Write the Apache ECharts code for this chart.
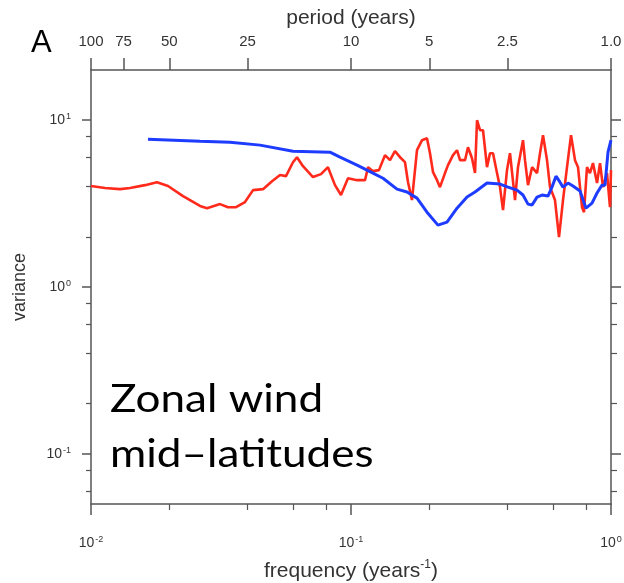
<!DOCTYPE html>
<html>
<head>
<meta charset="utf-8">
<script src="https://cdn.jsdelivr.net/npm/echarts@6/dist/echarts.min.js"></script>
<style>
  html, body { margin: 0; padding: 0; background: #fff; }
  #chart { width: 624px; height: 583px; }
</style>
</head>
<body>
<div id="chart"></div>
<script>
// ---- Data ----
// Red curve: frequency (1/years) and variance
var redFreq = [0.0100, 0.01132, 0.01293, 0.01413, 0.01613, 0.01794, 0.01978, 0.02259, 0.02626, 0.02794,
  0.03135, 0.03364, 0.03612, 0.03911, 0.04200, 0.04587, 0.04970, 0.05333, 0.05623, 0.05983,
  0.06198, 0.06536, 0.07142, 0.07666, 0.08155, 0.08678, 0.09152, 0.09738, 0.1055, 0.1132,
  0.1163, 0.1215, 0.1281, 0.1351, 0.1413, 0.1476, 0.1544, 0.1613, 0.1657, 0.1716,
  0.1794, 0.1876, 0.1960, 0.2013, 0.2068, 0.2142, 0.2199, 0.2299, 0.2361, 0.2468,
  0.2557, 0.2626, 0.2745, 0.2818, 0.2920, 0.2999, 0.3053, 0.3135, 0.3219, 0.3335,
  0.3424, 0.3517, 0.3644, 0.3742, 0.3843, 0.3981, 0.4088, 0.4274, 0.4388, 0.4587,
  0.4669, 0.4795, 0.4970, 0.5194, 0.5333, 0.5477, 0.5674, 0.5827, 0.6089, 0.6310,
  0.6538, 0.6774, 0.7019, 0.7270, 0.7467, 0.7736, 0.7875, 0.8085, 0.8300, 0.8525,
  0.8836, 0.9073, 0.9316, 0.9652, 0.9912, 1.0];
var redVar = [4.03, 3.92, 3.86, 3.92, 4.08, 4.25, 4.03, 3.51, 3.06, 2.97,
  3.14, 3.01, 3.01, 3.23, 3.81, 3.86, 4.31, 4.69, 4.62, 5.60,
  6.00, 5.30, 4.56, 4.75, 5.23, 4.08, 3.56, 4.49, 4.37, 4.37,
  5.23, 4.95, 5.02, 6.17, 5.76, 6.52, 6.00, 5.60, 4.25, 3.32,
  6.61, 7.59, 7.80, 6.34, 4.88, 4.37, 3.97, 4.82, 5.38, 6.17,
  6.61, 5.76, 5.76, 6.89, 5.92, 4.82, 10.0, 8.71, 8.71, 5.23,
  6.34, 6.34, 4.82, 3.97, 2.89, 5.02, 6.34, 3.32, 5.23, 7.59,
  5.76, 4.08, 5.23, 4.82, 6.34, 8.13, 5.76, 3.97, 3.32, 1.99,
  3.32, 5.23, 8.13, 5.76, 5.23, 3.01, 2.81, 5.23, 4.82, 5.53,
  4.20, 5.53, 3.97, 4.82, 3.01, 5.02];

// Blue curve: frequency (1/years) and variance
var blueFreq = [0.01656, 0.02626, 0.03424, 0.04467, 0.05983, 0.0830, 0.09073, 0.1055, 0.1215, 0.1328,
  0.1503, 0.1642, 0.1794, 0.1960, 0.2160, 0.2340, 0.2557, 0.2794, 0.2999, 0.3335,
  0.3742, 0.4016, 0.4350, 0.4587, 0.4795, 0.4970, 0.5194, 0.5428, 0.5724, 0.5929,
  0.6144, 0.6365, 0.6538, 0.6833, 0.7142, 0.7600, 0.8013, 0.8453, 0.8836, 0.9235,
  0.9482, 0.9738, 1.0];
var blueVar = [7.70, 7.49, 7.38, 7.09, 6.52, 6.43, 6.00, 5.38, 4.82, 4.49,
  3.86, 3.71, 3.41, 2.81, 2.35, 2.45, 2.97, 3.46, 3.71, 4.20,
  4.14, 3.97, 3.81, 3.56, 3.14, 3.10, 3.46, 3.56, 3.51, 3.97,
  4.62, 4.25, 3.97, 4.20, 4.03, 3.76, 2.97, 3.18, 3.66, 4.08,
  4.08, 6.43, 7.59];

// Axis ticks
var freqMajor = [0.01, 0.1, 1];
var freqMinor = [0.02, 0.04, 0.06, 0.08, 0.2, 0.4, 0.6, 0.8];
var periodValues = [100, 75, 50, 25, 10, 5, 2.5, 1];
var periodLabels = ['100', '75', '50', '25', '10', '5', '2.5', '1.0'];
var varMajor = [0.1, 1, 10];
var varMinor = [0.06, 0.08, 0.2, 0.4, 0.6, 0.8, 2, 4, 6, 8];
var varRange = [0.05, 20];
var freqRange = [0.01, 1];

// ---- Build ----
var L = Math.log10;
function pairs(xs, ys) { return xs.map(function (x, i) { return [L(x), L(ys[i])]; }); }
var axisColor = '#555';
var labelFont = "'Liberation Sans Narrow', 'Liberation Sans', Arial, sans-serif";
var titleFont = "'Liberation Sans', Arial, sans-serif";
var powRich = {
  b: { fontSize: 14, fontFamily: labelFont, color: '#333', lineHeight: 16 },
  s: { fontSize: 9, fontFamily: labelFont, color: '#333', verticalAlign: 'top', lineHeight: 9, padding: [0, 0, 0, 1] }
};
function powFmt(v) { return '{b|10}{s|' + Math.round(v) + '}'; }

var chart = echarts.init(document.getElementById('chart'), null, { renderer: 'canvas' });
var baseX = {
  type: 'value', min: L(freqRange[0]), max: L(freqRange[1]),
  splitLine: { show: false }
};
var baseY = {
  type: 'value', min: L(varRange[0]), max: L(varRange[1]),
  splitLine: { show: false }
};
function mergeObj(a, b) { var o = {}; for (var k in a) o[k] = a[k]; for (var k2 in b) o[k2] = b[k2]; return o; }

var option = {
  animation: false,
  backgroundColor: '#fff',
  grid: { left: 91, right: 13, top: 70, bottom: 79, containLabel: false, outerBoundsMode: 'none' },
  xAxis: [
    mergeObj(baseX, {
      position: 'bottom',
      axisLine: { show: true, onZero: false, lineStyle: { color: axisColor, width: 1.5 } },
      axisTick: { show: true, length: 11, customValues: freqMajor.map(L), lineStyle: { color: axisColor, width: 1.5 } },
      axisLabel: { show: true, margin: 31, customValues: freqMajor.map(L), formatter: powFmt, rich: powRich },
      name: '{a|frequency (years}{s|-1}{a|)}',
      nameLocation: 'middle', nameGap: 55,
      nameTextStyle: { rich: {
        a: { fontSize: 21, fontFamily: titleFont, color: '#333', lineHeight: 24 },
        s: { fontSize: 12, fontFamily: titleFont, color: '#333', verticalAlign: 'top', lineHeight: 12 }
      } }
    }),
    mergeObj(baseX, {
      position: 'bottom',
      axisLine: { show: false, onZero: false },
      axisTick: { show: true, length: 6, customValues: freqMinor.map(L), lineStyle: { color: axisColor, width: 1.2 } },
      axisLabel: { show: false }
    }),
    mergeObj(baseX, {
      position: 'top',
      axisLine: { show: true, onZero: false, lineStyle: { color: axisColor, width: 1.5 } },
      axisTick: { show: true, length: 12, customValues: periodValues.map(function (p) { return L(1 / p); }), lineStyle: { color: axisColor, width: 1.5 } },
      axisLabel: {
        show: true, margin: 21, fontSize: 15, fontFamily: labelFont, color: '#333',
        customValues: periodValues.map(function (p) { return L(1 / p); }),
        formatter: function (v) {
          var best = 0, bd = 1e9;
          periodValues.forEach(function (p, i) { var d = Math.abs(L(1 / p) - v); if (d < bd) { bd = d; best = i; } });
          return periodLabels[best];
        }
      },
      name: 'period (years)', nameLocation: 'middle', nameGap: 40,
      nameTextStyle: { fontSize: 21, fontFamily: titleFont, color: '#333' }
    })
  ],
  yAxis: [
    mergeObj(baseY, {
      position: 'left',
      axisLine: { show: true, onZero: false, lineStyle: { color: axisColor, width: 1.5 } },
      axisTick: { show: true, length: 9, customValues: varMajor.map(L), lineStyle: { color: axisColor, width: 1.5 } },
      axisLabel: { show: true, margin: 20, customValues: varMajor.map(L), formatter: powFmt, rich: powRich },
      name: 'variance', nameLocation: 'middle', nameGap: 62,
      nameTextStyle: { fontSize: 18, fontFamily: titleFont, color: '#333' }
    }),
    mergeObj(baseY, {
      position: 'left',
      axisLine: { show: false, onZero: false },
      axisTick: { show: true, length: 5, customValues: varMinor.map(L), lineStyle: { color: axisColor, width: 1.2 } },
      axisLabel: { show: false }
    }),
    mergeObj(baseY, {
      position: 'right',
      axisLine: { show: true, onZero: false, lineStyle: { color: axisColor, width: 1.5 } },
      axisTick: { show: true, length: 10, customValues: varMajor.map(L), lineStyle: { color: axisColor, width: 1.5 } },
      axisLabel: { show: false }
    }),
    mergeObj(baseY, {
      position: 'right',
      axisLine: { show: false, onZero: false },
      axisTick: { show: true, length: 6, customValues: varMinor.map(L), lineStyle: { color: axisColor, width: 1.2 } },
      axisLabel: { show: false }
    })
  ],
  series: [
    {
      type: 'line', xAxisIndex: 0, yAxisIndex: 0, showSymbol: false, symbol: 'none',
      data: pairs(redFreq, redVar),
      lineStyle: { color: '#ff2a1c', width: 2.6 }, z: 3
    },
    {
      type: 'line', xAxisIndex: 0, yAxisIndex: 0, showSymbol: false, symbol: 'none',
      data: pairs(blueFreq, blueVar),
      lineStyle: { color: '#1e3cff', width: 3 }, z: 4
    }
  ],
  graphic: [
    { type: 'text', left: 31, top: 28, style: { text: 'A', fontSize: 31, fontFamily: titleFont, fill: '#000' } },
    { type: 'text', x: 110, y: 372, scaleX: 1.13, style: {
      text: 'Zonal wind\nmid\u2013latitudes', fontSize: 39, lineHeight: 55,
      fontFamily: "Lato, 'Open Sans', sans-serif", fill: '#000' } }
  ]
};
chart.setOption(option);
</script>
</body>
</html>
